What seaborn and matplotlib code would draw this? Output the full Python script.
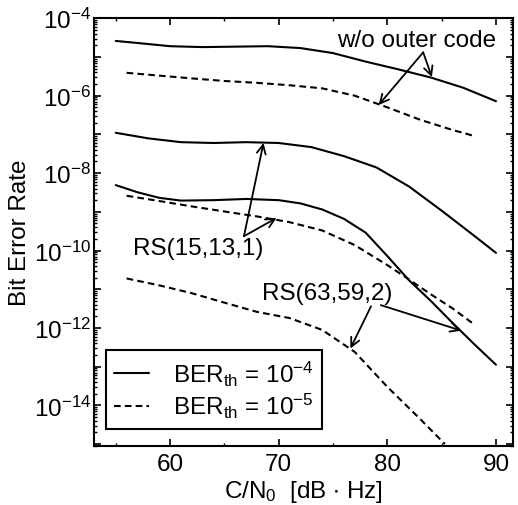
import numpy as np
import pandas as pd
import matplotlib
matplotlib.use("Agg")
import matplotlib.pyplot as plt
import matplotlib.ticker as mticker
from matplotlib.lines import Line2D
import seaborn as sns

# ---- data (C/N0 in dB-Hz, BER) ----
x_wo_4 = [55, 57, 60, 63, 66, 69, 72, 75, 78, 81, 84, 87, 90]
ber_wo_4 = [2.6e-5, 2.3e-5, 1.9e-5, 1.8e-5, 1.85e-5, 1.9e-5, 1.7e-5, 1.26e-5, 7.6e-6, 4.8e-6, 2.95e-6, 1.6e-6, 7.2e-7]

x_wo_5 = [56, 59, 62, 65, 68, 71, 74, 77, 80, 83, 86, 88]
ber_wo_5 = [3.9e-6, 3.3e-6, 2.8e-6, 2.4e-6, 2.15e-6, 1.86e-6, 1.55e-6, 1.0e-6, 5.0e-7, 2.4e-7, 1.3e-7, 9.1e-8]

x_rs15_4 = [55, 58, 61, 64, 67, 70, 73, 76, 79, 82, 85, 88, 90]
ber_rs15_4 = [1.1e-7, 7.9e-8, 6.3e-8, 6.0e-8, 6.3e-8, 6.0e-8, 4.7e-8, 2.75e-8, 1.4e-8, 4.5e-9, 1.07e-9, 2.4e-10, 8.7e-11]

x_rs15_5 = [56, 59, 62, 65, 68, 71, 74, 77, 80, 82, 84, 86, 88]
ber_rs15_5 = [2.6e-9, 1.9e-9, 1.38e-9, 1.02e-9, 7.6e-10, 5.4e-10, 3.3e-10, 1.38e-10, 4.2e-11, 1.78e-11, 7.4e-12, 3.2e-12, 1.23e-12]

x_rs63_4 = [55, 57, 59, 61, 64, 67, 70, 72, 74, 76, 78, 80, 82, 84, 86, 88, 90]
ber_rs63_4 = [4.9e-9, 3.2e-9, 2.3e-9, 1.95e-9, 2.0e-9, 2.15e-9, 2.0e-9, 1.65e-9, 1.15e-9, 6.6e-10, 2.9e-10, 7.2e-11, 1.7e-11, 5.0e-12, 1.35e-12, 3.8e-13, 1.12e-13]

x_rs63_5 = [56, 59, 62, 65, 68, 71, 74, 77, 80, 83, 85.3]
ber_rs63_5 = [1.9e-11, 1.26e-11, 7.9e-12, 4.5e-12, 2.6e-12, 1.8e-12, 8.9e-13, 2.4e-13, 3.0e-14, 4.5e-15, 1.0e-15]

legend_labels = [r"BER$_{\rm th}$ = 10$^{-4}$", r"BER$_{\rm th}$ = 10$^{-5}$"]
x_ticks = [60, 70, 80, 90]

# ---- style ----
FS = 17.5
sns.set_theme(style="ticks")
plt.rcParams["font.family"] = ["Liberation Sans", "DejaVu Sans"]
plt.rcParams["mathtext.fontset"] = "custom"
plt.rcParams["mathtext.rm"] = "Liberation Sans"
plt.rcParams["mathtext.it"] = "Liberation Sans:italic"
plt.rcParams["mathtext.bf"] = "Liberation Sans:bold"
plt.rcParams["axes.unicode_minus"] = True
plt.rcParams["text.color"] = "black"
plt.rcParams["axes.labelcolor"] = "black"

fig = plt.figure(figsize=(5.18, 5.06), dpi=100)
ax = fig.add_axes([0.1815, 0.1166, 0.8085, 0.8453])

DASH = (0, (3.2, 2.0))
curves = [
    (x_wo_4, ber_wo_4, "-"),
    (x_wo_5, ber_wo_5, DASH),
    (x_rs15_4, ber_rs15_4, "-"),
    (x_rs15_5, ber_rs15_5, DASH),
    (x_rs63_4, ber_rs63_4, "-"),
    (x_rs63_5, ber_rs63_5, DASH),
]
for xs, ys, ls in curves:
    df = pd.DataFrame({"x": xs, "ber": ys})
    sns.lineplot(data=df, x="x", y="ber", ax=ax, color="black", lw=1.5,
                 linestyle=ls, sort=False, estimator=None)

ax.set_yscale("log")
ax.set_xlim(53.0, 91.55)
ax.set_ylim(10 ** -15.05, 1e-4)

ax.xaxis.set_major_locator(mticker.FixedLocator(x_ticks))
ax.xaxis.set_minor_locator(mticker.MultipleLocator(5))
ax.yaxis.set_major_locator(mticker.LogLocator(base=10, numticks=30))
ax.yaxis.set_minor_locator(mticker.LogLocator(base=10, subs=np.arange(2, 10), numticks=30))


def yfmt(v, pos):
    e = int(round(np.log10(v)))
    return r"$10^{%d}$" % e if e % 2 == 0 else ""


ax.yaxis.set_major_formatter(mticker.FuncFormatter(yfmt))
ax.yaxis.set_minor_formatter(mticker.NullFormatter())

ax.tick_params(which="both", direction="in", top=True, right=True, colors="black", labelsize=FS)
ax.tick_params(which="major", length=5, width=1.2)
ax.tick_params(which="minor", length=2.5, width=1.0)
ax.tick_params(axis="x", which="major", pad=5)
ax.tick_params(axis="y", which="major", pad=2)
for s in ax.spines.values():
    s.set_color("black")
    s.set_linewidth(1.5)

ax.set_xlabel(r"C/N$_0$  [dB $\bullet$ Hz]", fontsize=FS, color="black", labelpad=2)
ax.set_ylabel("Bit Error Rate", fontsize=FS, color="black", labelpad=2)

# ---- annotations ----
arrow = dict(arrowstyle="->", color="black", lw=1.3, shrinkA=0, shrinkB=0, mutation_scale=16)
ax.text(90.06, 10 ** -4.57, "w/o outer code", fontsize=FS, ha="right", va="center", color="black")
ax.annotate("", xy=(84.1, 10 ** -5.52), xytext=(83.3, 10 ** -4.88), arrowprops=arrow)
ax.annotate("", xy=(79.2, 10 ** -6.24), xytext=(83.3, 10 ** -4.88), arrowprops=arrow)

ax.text(56.6, 10 ** -9.93, "RS(15,13,1)", fontsize=FS, ha="left", va="center", color="black")
ax.annotate("", xy=(68.6, 10 ** -7.22), xytext=(66.8, 10 ** -9.63), arrowprops=arrow)
ax.annotate("", xy=(69.8, 10 ** -9.16), xytext=(66.8, 10 ** -9.63), arrowprops=arrow)

ax.text(68.5, 10 ** -11.10, "RS(63,59,2)", fontsize=FS, ha="left", va="center", color="black")
ax.annotate("", xy=(76.6, 10 ** -12.53), xytext=(78.5, 10 ** -11.44), arrowprops=arrow)
ax.annotate("", xy=(86.8, 10 ** -12.07), xytext=(79.4, 10 ** -11.41), arrowprops=arrow)

handles = [Line2D([], [], color="black", lw=1.5, linestyle="-"),
           Line2D([], [], color="black", lw=1.5, linestyle=DASH)]
leg = ax.legend(handles, legend_labels, loc="lower left", bbox_to_anchor=(0.028, 0.04),
                borderaxespad=0, fontsize=FS, fancybox=False, framealpha=1,
                handlelength=1.45, handletextpad=0.95, borderpad=0.35, labelspacing=0.15,
                labelcolor="black")
leg.get_frame().set_edgecolor("black")
leg.get_frame().set_linewidth(1.5)

fig.savefig("out.png", dpi=100)
